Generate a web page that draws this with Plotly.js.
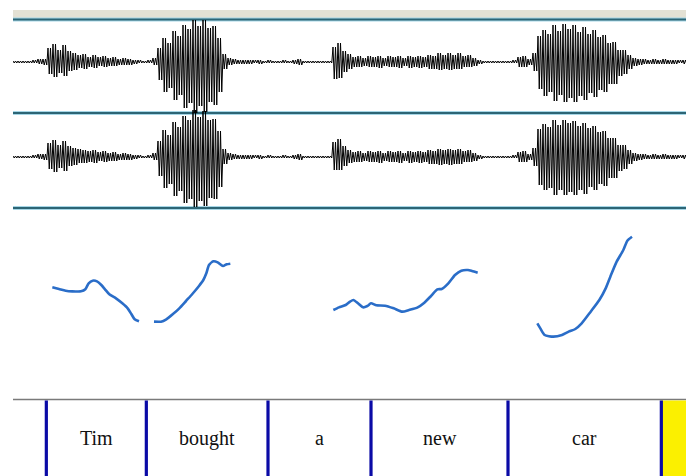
<!DOCTYPE html>
<html><head><meta charset="utf-8">
<script src="https://cdn.plot.ly/plotly-3.0.1.min.js"></script>
<style>html,body{margin:0;padding:0;background:#fff;}#chart{width:686px;height:476px;}</style>
</head><body><div id="chart"></div>
<script>
// ---- data ----
// waveform envelope, one value per 15 ms frame (arbitrary amplitude units)
const waveStepMs = 15;
const waveUp1 = [1,1,1,1,2,3,3, 14,18,12,17,11,9,7,8,5,7,5,6,4,5,3,4, 3,2,2,1,2,4, 14,24,19,31,26,37,33,42,36,42,34,36,24, 8,4,3,2,2,2,2,2,1,2,1,1,2,1,2,3,1,1,1,1,1,1, 15,19,11,8,5,6,4,6,5,6,4,6,5,6,4,6,5,6,5,7,6,9,7,9,7,9,6,7,4, 2,1,1,1,1,1,1,2,5,6,3, 9,26,32,28,37,31,38,33,37,30,35,28,32,25,27,19,20,12,12,7, 4,3,3,2,3,2,3,2,2,2,2];
const waveDn1 = [1,1,1,1,1,2,3, 12,15,11,14,9,8,6,7,5,6,4,5,4,4,3,3, 3,2,1,1,1,3, 18,30,26,38,33,46,41,51,44,50,40,43,30, 7,3,2,2,2,2,1,2,1,1,1,1,1,1,2,3,1,1,1,1,1,1, 17,16,10,7,5,5,4,5,5,6,4,5,5,6,4,6,5,6,5,7,7,8,7,8,7,7,5,5,4, 2,1,1,1,1,1,1,1,5,5,3, 9,27,34,30,39,33,40,36,40,34,38,31,35,28,30,22,22,14,12,7, 4,3,2,2,2,2,2,2,2,1,2];
const waveUp2 = [1,1,1,1,2,3,3, 14,17,12,16,11,9,8,7,6,7,5,6,4,5,3,4, 3,2,2,1,2,4, 16,27,22,35,30,41,37,47,40,46,37,38,26, 8,4,3,2,2,2,2,2,1,2,1,1,2,1,2,3,1,1,1,1,1,1, 15,18,11,7,5,6,4,6,5,6,4,6,5,6,4,6,5,6,5,7,6,8,7,8,7,8,6,7,4, 2,1,1,1,1,1,1,2,5,6,3, 9,28,33,30,37,32,37,34,36,31,34,29,31,25,26,19,19,12,12,7, 4,3,3,2,3,2,3,2,2,2,2];
const waveDn2 = [1,1,1,1,1,2,3, 12,15,11,14,9,8,6,6,5,6,4,5,4,4,3,3, 3,2,1,1,1,3, 19,31,27,39,34,46,42,50,44,49,41,42,30, 7,3,2,2,2,2,1,2,1,1,1,1,1,1,2,3,1,1,1,1,1,1, 13,13,9,6,5,5,4,5,5,6,4,5,5,6,4,6,5,6,5,7,7,8,7,8,7,7,5,5,4, 2,1,1,1,1,1,1,1,5,5,3, 9,28,33,31,38,33,38,35,38,33,37,30,33,27,29,21,21,14,12,7, 4,3,2,2,2,2,2,2,2,1,2];

// pitch contour (time in ms, F0 in Hz), one array per voiced stretch
const pitchT1 = [118,138,158,178,204,217,227,239,252,265,276,289,309,328,344,355,365,378];
const pitchF1 = [199,196.5,194,193,193,196,205,209,208,202.5,196,188.5,182.5,175,167.5,159,151,148];
const pitchT2 = [423,444,460,479,499,519,538,558,571,580,588,601,614,630,641,652];
const pitchF2 = [147.5,147.5,151,158.5,167.5,178.5,189,201,210,220,232.5,238,236.5,231,233.5,234.5];
const pitchT3 = [961,978,998,1011,1021,1035,1050,1063,1074,1090,1116,1142,1168,1188,1214,1234,1254,1273,1286,1306,1326,1345,1365,1377,1394];
const pitchF3 = [165,169,172.5,177.5,180,175,169,171,175,172,171.5,167.5,162.5,165,169,176,186,196,196.5,205,217.5,224,225,223.5,221];
const pitchT4 = [1573,1582,1595,1621,1647,1667,1687,1706,1733,1759,1778,1792,1811,1831,1843,1857];
const pitchF4 = [145,137.5,127.5,125,127.5,132.5,136.5,145,162.5,180,197.5,215,237.5,255,269,275];

// word tier
const words = ["Tim","bought","a","new","car"];
const wordBounds = [100,400,765,1074,1485,1945]; // ms
const totalMs = 2019;

// ---- build ----
// each frame is drawn as a few alternating excursions to its envelope
const spikesPerFrame = 2;
function zigzag(up, dn){
  const x=[], y=[];
  const d = waveStepMs/(2*spikesPerFrame);
  for(let i=0;i<up.length;i++){
    const t=i*waveStepMs;
    for(let k=0;k<spikesPerFrame;k++){
      x.push(t+2*k*d); y.push(up[i]);
      x.push(t+(2*k+1)*d); y.push(-dn[i]);
    }
  }
  return {x,y};
}
const z1 = zigzag(waveUp1, waveDn1);
const z2 = zigzag(waveUp2, waveDn2);

const pitchColor = '#2a6dc8';
const traces = [
  {x:z1.x, y:z1.y, yaxis:'y2', type:'scatter', mode:'lines', line:{color:'#000', width:1}, hoverinfo:'skip'},
  {x:z2.x, y:z2.y, yaxis:'y3', type:'scatter', mode:'lines', line:{color:'#000', width:1}, hoverinfo:'skip'},
];
[[pitchT1,pitchF1],[pitchT2,pitchF2],[pitchT3,pitchF3],[pitchT4,pitchF4]].forEach(([t,f])=>{
  traces.push({x:t, y:f, yaxis:'y', type:'scatter', mode:'lines', line:{color:pitchColor, width:2.6, shape:'spline', smoothing:0.6}, hoverinfo:'skip'});
});

const H = 476;
const py = v => 1 - v/H;
const shapes = [];
// top grey band
shapes.push({type:'rect', xref:'paper', yref:'paper', x0:0, x1:1, y0:py(18), y1:py(10), fillcolor:'#e4e1d4', line:{width:0}, layer:'below'});
// panel separators
[19.5, 113, 208].forEach(v=>{
  shapes.push({type:'line', xref:'paper', yref:'paper', x0:0, x1:1, y0:py(v), y1:py(v), line:{color:'#a6d6e6', width:4}, layer:'below'});
  shapes.push({type:'line', xref:'paper', yref:'paper', x0:0, x1:1, y0:py(v), y1:py(v), line:{color:'#2d6575', width:2}, layer:'below'});
});
// tier top line
shapes.push({type:'line', xref:'paper', yref:'paper', x0:0, x1:1, y0:py(399.5), y1:py(399.5), line:{color:'#7a7a7a', width:1.5}, layer:'below'});
// yellow end region
shapes.push({type:'rect', xref:'x', yref:'paper', x0:wordBounds[wordBounds.length-1], x1:totalMs, y0:0, y1:py(400.5), fillcolor:'#fbf000', line:{width:0}, layer:'below'});
// boundaries
wordBounds.forEach(b=>{
  shapes.push({type:'line', xref:'x', yref:'paper', x0:b, x1:b, y0:0, y1:py(400.5), line:{color:'#0a0aa6', width:3.2}});
});
const annotations = words.map((w,i)=>({
  x:(wordBounds[i]+wordBounds[i+1])/2, y:py(438), xref:'x', yref:'paper',
  text:w, showarrow:false, font:{family:'Liberation Serif, Times New Roman, serif', size:20, color:'#111'},
  xanchor:'center', yanchor:'middle'
}));

const hidden = {visible:false, showgrid:false, zeroline:false, fixedrange:true};
const layout = {
  width:686, height:476,
  margin:{l:13, r:0, t:0, b:0, pad:0},
  paper_bgcolor:'#fff', plot_bgcolor:'#fff',
  showlegend:false,
  xaxis:Object.assign({range:[0,totalMs]}, hidden),
  yaxis:Object.assign({range:[60-(H-380)*1.5, 60+380*1.5]}, hidden),
  yaxis2:Object.assign({range:[-(H-62), 62], overlaying:'y'}, hidden),
  yaxis3:Object.assign({range:[-(H-157), 157], overlaying:'y'}, hidden),
  shapes, annotations
};
Plotly.newPlot('chart', traces, layout, {displayModeBar:false, staticPlot:true});
</script></body></html>
